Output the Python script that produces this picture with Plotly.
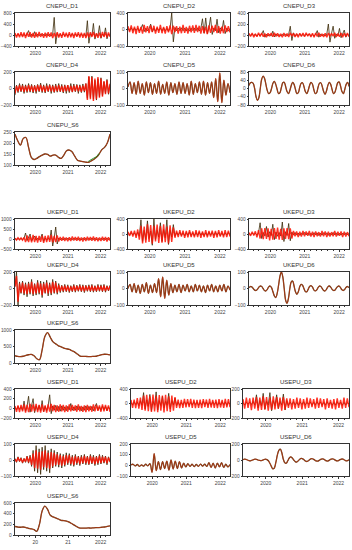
import plotly.graph_objects as go
import pandas as pd

W, H = 352, 550
START, END = "2019-05-18", "2022-04-16"

# ---------------- CN ----------------
CN_D1_red = [70,-90,60,-80,100,-70,90,-110,80,-60,100,-90,70,-100,90,-80,110,-70,60,-100,80,-90,100,-60,90,-110,70,-80,100,-90,60,-100,110,-70,80,-90,100,-80,70,-110,90,-60,100,-90,80,-100,70,-110,90,-80,100,-70,110,-90,60,-100,80,-90,110,-70,100,-80,90,-60]
CN_D1_dark = [20,-30,35,-25,30,-40,25,-35,40,160,-60,30,-45,120,-50,35,-30,40,-25,30,-35,45,-30,25,-40,35,640,-320,60,-45,30,-35,40,-30,25,-40,35,-30,45,-25,30,-40,35,-30,40,-25,30,-45,520,-300,50,-35,420,-150,40,-30,340,-120,35,-40,260,-140,30,-25]
CN_D2_red = [80,-60,100,-90,70,-110,90,-80,60,-100,110,-70,80,-90,100,-60,90,-100,70,-80,110,-90,60,-100,80,-70,100,-110,90,-60,80,-100,70,-90,110,-80,60,-100,90,-70,100,-80,110,-60,90,-100,80,-90,70,-110,100,-80,90,-60,110,-90,80,-100,70,-90,100,-60,80,-70]
CN_D2_dark = [20,-30,40,-25,35,-20,30,-40,25,120,-50,30,-35,25,130,-60,30,-40,35,-25,30,-35,40,-30,25,-45,35,400,-300,50,-30,35,-25,40,-30,30,-35,25,-40,30,-25,35,-30,40,-35,30,260,-90,280,-100,40,300,-120,35,-30,250,-80,40,-35,220,-100,30,-40,25]
CN_D3_red = [30,-25,35,-40,20,-30,40,-25,35,-30,25,-40,30,-20,35,-30,40,-25,30,-35,20,-40,35,-30,25,-35,40,-20,30,-35,25,-40,30,-25,35,-30,40,-20,25,-35,30,-40,35,-25,40,-30,20,-35,30,-40,35,-25,30,-20,40,-35,25,-30,35,-40,30,-25,35,-30]
CN_D3_dark = [10,-15,20,-10,15,-20,10,-15,20,80,-40,15,-20,10,-15,70,-35,20,-15,10,-20,15,-10,20,-15,10,160,-100,40,-20,15,-10,20,-15,10,-20,15,-10,20,-15,10,-20,15,80,-40,20,-15,10,-20,15,200,-130,30,160,-60,20,-15,120,-50,20,90,-40,15,-10]
CN_D4_dark = [-80,40,-50,60,-40,55,-60,45,-50,60,-45,50,-55,40,-60,50,-40,65,-50,45,-55,60,-40,50,-60,45,-50,55,-45,60,-40,50,-55,45,-60,40,-50,60,-45,55,-40,50,-60,45,-50,55,-45,60,-120,140,-110,150,-130,100,-140,120,-100,130,-90,80,-60,110,-70,60]
CN_D4_red = [-60,30,-35,40,-30,35,-40,30,-35,40,-30,35,-40,30,-35,40,-30,45,-35,30,-40,35,-30,40,-35,30,-40,35,-30,40,-35,30,-40,35,-30,40,-35,30,-40,35,-30,40,-35,30,-40,35,-30,60,-140,150,-130,140,-150,120,-130,140,-110,120,-100,90,-70,100,-60,50]
CN_D5 = [10,40,-30,35,-35,45,-30,30,-40,40,-25,35,-35,30,-30,45,-35,25,-30,40,-40,35,-25,30,-35,40,-30,35,-30,30,-40,45,-35,30,-25,40,-35,45,-40,35,-30,40,-55,60,-80,95,-85,50,-40,30,-25]
CN_D6 = [15,28,30,25,0,-40,-58,-45,0,45,60,50,20,-10,-25,-20,0,25,35,20,-5,-25,-20,5,28,30,10,-15,-25,-10,15,30,20,-5,-25,-20,5,25,28,10,-15,-25,-10,15,30,22,-5,-25,-20,5,25,28,10,-15,-28,-12,15,30,20,-5,-25,-18,5,28,32,12,-15,-25,-5,20,30,10]
CN_S6 = [240,210,190,220,225,180,135,125,130,138,145,150,148,140,145,145,135,130,145,165,168,160,140,122,118,115,113,112,118,125,135,150,170,180,200,240]
CN_S6_ALT = [116,124,131,138,152]
CN_S6_ALT_DATES = ["2021-08-15", "2021-09-15", "2021-10-15", "2021-11-15", "2021-12-15"]

# ---------------- UK ----------------
UK_D1_red = [40,-50,60,-40,50,-60,80,-150,180,-160,140,-170,200,-150,160,-180,150,-140,170,-190,160,-150,180,-140,200,-170,150,-160,180,-120,100,-90,110,-100,80,-110,90,-100,120,-80,100,-90,110,-100,80,-120,90,-100,110,-80,100,-90,120,-100,90,-110,80,-100,110,-90,100,-120,90,-80]
UK_D1_dark = [20,-30,25,-20,30,-25,40,300,-80,50,250,-100,40,150,-60,50,-40,60,250,-120,50,-60,40,-50,450,-350,60,600,-250,50,-40,30,-50,40,-30,50,-40,30,-35,40,-30,45,-40,30,-50,40,-30,35,-40,30,-35,45,-30,40,-50,30,-40,35,-30,40,-30,45,-35,30]
UK_D2_red = [60,-50,80,-70,90,-100,120,-150,220,-250,200,-230,260,-210,240,-260,220,-200,250,-240,210,-230,260,-220,200,-250,230,-210,180,-100,90,-80,100,-70,90,-100,80,-90,100,-80,70,-90,100,-80,90,-100,70,-80,100,-90,80,-70,90,-100,80,-90,100,-70,80,-90,100,-80,90,-70]
UK_D2_dark = [20,-30,40,-25,30,-40,50,-60,380,-200,100,-150,350,-120,80,-300,400,-150,100,-80,300,-200,120,-100,380,-280,100,-80,250,-60,40,-30,50,-40,30,-50,40,-30,60,-40,30,-50,40,-35,50,-30,40,-45,30,-40,50,-30,40,-35,45,-30,40,-50,30,-40,35,-30,45,-25]
UK_D3_red = [40,-50,60,-40,70,-90,100,-120,150,-140,160,-130,150,-170,140,-150,160,-130,170,-150,140,-160,150,-130,160,-140,150,-120,80,-60,70,-80,60,-70,80,-60,70,-50,80,-70,60,-80,70,-60,50,-70,80,-60,70,-80,60,-70,50,-60,80,-70,60,-50,70,-80,60,-70,50,-60]
UK_D3_dark = [15,-20,25,-15,20,-30,30,300,-120,40,-50,200,-80,60,-40,260,-150,50,-60,40,-50,320,-200,60,-40,280,-180,50,-30,40,-30,25,-35,30,-20,40,-25,30,-35,20,-30,35,-25,30,-40,25,-30,35,-20,30,-35,25,-30,40,-25,30,-35,20,-30,25,-20,30,-25,20]
UK_D4_dark = [30,200,-200,80,-60,90,-80,70,-100,80,-70,110,-90,60,-80,100,-70,90,-110,80,-60,100,-90,70,-80,110,-60,90,-70,60,-50,40,-45,50,-40,45,-50,35,-40,50,-45,40,-35,50,-40,45,-50,40,-35,45,-40,50,-45,35,-40,50,-35,45,-40,50,-45,35,-30,40]
UK_D4_red = [20,150,-160,60,-50,70,-60,50,-70,60,-50,80,-70,50,-60,70,-50,60,-80,60,-50,70,-60,50,-60,80,-50,70,-50,40,-35,30,-30,35,-30,30,-35,25,-30,35,-30,30,-25,35,-30,30,-35,30,-25,30,-30,35,-30,25,-30,35,-25,30,-30,35,-30,25,-20,30]
UK_D5 = [0,25,-20,30,-25,20,-30,25,-20,35,-30,20,-25,30,-25,60,-50,70,-60,50,-40,30,-25,20,-20,25,-25,20,-15,25,-20,15,-20,25,-15,20,-20,15,-25,20,-15,25,-20,15,-20,20,-15,25,-20,15,-10]
UK_D6 = [5,12,10,0,-10,-12,-5,8,15,12,0,-12,-15,-5,10,15,5,-20,-45,-55,-30,20,75,100,70,0,-70,-90,-60,0,40,45,15,-20,-35,-20,10,25,20,0,-18,-20,-5,12,18,10,-8,-15,-10,5,15,12,0,-12,-15,-5,10,15,8,-5,-12,-10,2,12,15,5,-8,-12,-5,8,12,5]
UK_S6 = [220,200,195,205,230,250,260,220,130,100,400,800,920,780,640,580,520,490,450,430,410,370,330,270,210,200,200,195,195,200,205,230,255,265,260,245]

# ---------------- US ----------------
US_D1_red = [50,-70,60,-80,70,-60,80,-90,70,-80,90,-70,80,-60,90,-80,70,-90,80,-70,60,-90,80,-70,90,-60,70,-80,60,-70,80,-60,70,-80,60,-70,80,-60,70,-50,60,-70,80,-60,50,-70,60,-80,70,-60,50,-70,80,-60,70,-50,60,-70,80,-60,70,-50,60,-70]
US_D1_dark = [20,-30,40,-20,30,-40,150,-60,40,250,-80,60,200,-90,50,-40,60,-50,160,-70,40,-50,60,280,-110,50,-40,60,-50,40,-60,50,-40,30,-50,40,-30,100,-40,30,-40,50,-30,40,-50,30,-40,50,-30,40,-30,40,-50,30,100,-40,30,-40,50,-30,40,-50,30,-20]
US_D2_red = [100,-120,110,-130,150,-140,160,-180,220,-200,240,-210,200,-230,250,-220,210,-240,230,-200,220,-250,240,-210,200,-230,220,-200,180,-120,110,-130,100,-120,130,-110,120,-100,130,-120,110,-130,100,-120,110,-130,120,-100,110,-120,130,-110,100,-120,110,-130,120,-110,100,-120,130,-110,120,-100]
US_D2_dark = [30,-40,50,-30,40,-60,80,-50,300,-150,100,-80,250,-200,60,-50,320,-180,80,-60,200,-120,60,-50,280,-150,80,-40,150,-60,40,-50,30,-40,50,-30,40,-50,30,-40,50,-30,40,-50,30,-40,60,-30,40,-50,30,-40,50,-30,40,-50,30,-40,50,-30,40,-50,30,-20]
US_D3_red = [60,-70,80,-60,70,-90,80,-70,90,-100,80,-90,100,-80,90,-100,80,-90,100,-80,90,-70,80,-100,90,-80,70,-60,70,-80,60,-70,80,-60,70,-80,60,-70,80,-60,70,-50,60,-70,80,-60,70,-50,60,-80,70,-60,50,-70,60,-80,70,-60,50,-70,80,-60,70,-50]
US_D3_dark = [10,-20,15,-10,20,-15,30,-20,120,-60,40,-30,140,-80,30,-20,150,-100,40,-30,120,-70,30,-20,130,-90,40,-30,20,-15,25,-20,15,-25,20,-15,25,-20,15,-10,20,-25,15,-20,25,-15,20,-25,15,-20,25,-15,20,-25,15,-20,25,-15,20,-25,15,-20,10,-5]
US_D4_dark = [10,-15,20,-10,15,-20,10,-15,25,-20,30,-40,60,-70,90,-80,70,-90,80,-60,90,-70,60,-80,70,-50,60,-40,50,-45,40,-50,35,-40,45,-30,40,-35,30,-40,35,-30,25,-35,30,-25,35,-30,25,-30,35,-25,30,-35,25,-30,35,-25,30,-20,25,-30,20,-15]
US_D4_red = [5,-10,15,-8,10,-15,8,-10,20,-15,20,-30,40,-50,60,-55,50,-60,55,-45,60,-50,45,-55,50,-40,45,-30,35,-30,30,-35,25,-30,30,-20,30,-25,20,-30,25,-20,20,-25,20,-20,25,-20,20,-25,25,-20,20,-25,20,-20,25,-20,20,-15,20,-20,15,-10]
US_D5 = [5,10,-5,8,-10,5,-8,10,-5,15,-65,110,-50,35,-40,35,-30,40,-45,50,-35,40,-30,35,-25,20,-15,15,-10,10,-12,8,-10,12,-8,10,-10,25,-20,20,-25,20,-15,25,-20,10,-15,8]
US_D6 = [5,10,8,0,-8,-10,-3,5,10,8,0,-5,-8,-3,5,10,5,-10,-40,-80,-110,-100,-30,60,120,135,90,10,-35,-40,-10,25,40,25,0,-20,-25,-10,10,20,15,0,-15,-18,-5,10,18,12,0,-12,-15,-5,8,15,10,-2,-12,-12,0,10,15,8,-5,-12,-8,5,12,10,0,-10,-8,2]
US_S6 = [160,150,145,150,140,125,115,100,70,200,450,540,480,370,340,320,300,275,270,260,240,210,180,150,130,128,130,132,130,135,138,140,145,150,160,170]

YEAR_TICKS = ["2020", "2021", "2022"]
US_S6_TICKS = ["20", "21", "2022"]

# column / row boxes in pixels (left, right) and (top, bottom)
COLS = {"CN": [(15, 110), (128, 230), (249, 349)],
        "UK": [(15, 110), (128, 230), (249, 349)],
        "US": [(15, 110), (131, 230), (243, 349)]}
ROWS = {"CN": [(13, 46), (72, 105), (132, 165)],
        "UK": [(219, 249), (272, 305), (330, 363)],
        "US": [(389, 418), (444, 476), (503, 535)]}

NOISY, SMOOTH = "noisy", "smooth"
panels = [
    ("CNEPU_D1", "CN", 0, 0, NOISY, (CN_D1_red, CN_D1_dark), [-400, 800], [-400, 0, 400, 800]),
    ("CNEPU_D2", "CN", 0, 1, NOISY, (CN_D2_red, CN_D2_dark), [-400, 400], [-400, 0, 400]),
    ("CNEPU_D3", "CN", 0, 2, NOISY, (CN_D3_red, CN_D3_dark), [-200, 400], [-200, 0, 200, 400]),
    ("CNEPU_D4", "CN", 1, 0, NOISY, (CN_D4_red, CN_D4_dark), [-200, 200], [-200, 0, 200]),
    ("CNEPU_D5", "CN", 1, 1, SMOOTH, (CN_D5,), [-100, 100], [-100, 0, 100]),
    ("CNEPU_D6", "CN", 1, 2, SMOOTH, (CN_D6,), [-80, 80], [-80, -40, 0, 40, 80]),
    ("CNEPU_S6", "CN", 2, 0, SMOOTH, (CN_S6,), [100, 250], [100, 150, 200, 250]),
    ("UKEPU_D1", "UK", 0, 0, NOISY, (UK_D1_red, UK_D1_dark), [-500, 1000], [-500, 0, 500, 1000]),
    ("UKEPU_D2", "UK", 0, 1, NOISY, (UK_D2_red, UK_D2_dark), [-400, 400], [-400, 0, 400]),
    ("UKEPU_D3", "UK", 0, 2, NOISY, (UK_D3_red, UK_D3_dark), [-400, 400], [-400, 0, 400]),
    ("UKEPU_D4", "UK", 1, 0, NOISY, (UK_D4_red, UK_D4_dark), [-200, 200], [-200, 0, 200]),
    ("UKEPU_D5", "UK", 1, 1, SMOOTH, (UK_D5,), [-100, 100], [-100, 0, 100]),
    ("UKEPU_D6", "UK", 1, 2, SMOOTH, (UK_D6,), [-100, 100], [-100, 0, 100]),
    ("UKEPU_S6", "UK", 2, 0, SMOOTH, (UK_S6,), [0, 1000], [0, 500, 1000]),
    ("USEPU_D1", "US", 0, 0, NOISY, (US_D1_red, US_D1_dark), [-200, 400], [-200, 0, 200, 400]),
    ("USEPU_D2", "US", 0, 1, NOISY, (US_D2_red, US_D2_dark), [-400, 400], [-400, 0, 400]),
    ("USEPU_D3", "US", 0, 2, NOISY, (US_D3_red, US_D3_dark), [-200, 200], [-200, 0, 200]),
    ("USEPU_D4", "US", 1, 0, NOISY, (US_D4_red, US_D4_dark), [-100, 100], [-100, 0, 100]),
    ("USEPU_D5", "US", 1, 1, SMOOTH, (US_D5,), [-100, 200], [-100, 0, 100, 200]),
    ("USEPU_D6", "US", 1, 2, SMOOTH, (US_D6,), [-200, 200], [-200, 0, 200]),
    ("USEPU_S6", "US", 2, 0, SMOOTH, (US_S6,), [0, 600], [0, 200, 400, 600]),
]

FONT = "Liberation Sans, Arial, sans-serif"
AX = "#333333"
fig = go.Figure()
layout = {}
annotations = []

def xs(n):
    return pd.date_range(START, END, periods=n)

for i, (title, grp, r, c, kind, series, yr, yt) in enumerate(panels, start=1):
    xa, ya = f"x{i}", f"y{i}"
    (x0, x1) = COLS[grp][c]
    (y0, y1) = ROWS[grp][r]
    if kind == NOISY:
        red, dark = series
        fig.add_trace(go.Scatter(x=xs(len(dark)), y=dark, mode="lines",
                                 line=dict(color="#3b2a08", width=0.8),
                                 xaxis=xa, yaxis=ya, showlegend=False, hoverinfo="skip"))
        fig.add_trace(go.Scatter(x=xs(len(red)), y=red, mode="lines",
                                 line=dict(color="#ff1000", width=1.4), opacity=0.85,
                                 xaxis=xa, yaxis=ya, showlegend=False, hoverinfo="skip"))
    else:
        vals = series[0]
        fig.add_trace(go.Scatter(x=xs(len(vals)), y=vals, mode="lines",
                                 line=dict(color="#5a3410", width=1.3, shape="spline"),
                                 xaxis=xa, yaxis=ya, showlegend=False, hoverinfo="skip"))
        fig.add_trace(go.Scatter(x=xs(len(vals)), y=vals, mode="lines",
                                 line=dict(color="#d8401c", width=0.6, shape="spline"),
                                 xaxis=xa, yaxis=ya, showlegend=False, hoverinfo="skip"))
        if title == "CNEPU_S6":
            fig.add_trace(go.Scatter(x=pd.to_datetime(CN_S6_ALT_DATES), y=CN_S6_ALT, mode="lines",
                                     line=dict(color="#1a8a1a", width=0.9, shape="spline"),
                                     xaxis=xa, yaxis=ya, showlegend=False, hoverinfo="skip"))
    ticktext = US_S6_TICKS if title == "USEPU_S6" else YEAR_TICKS
    key = "" if i == 1 else str(i)
    layout[f"xaxis{key}"] = dict(
        domain=[x0 / W, x1 / W], anchor=ya, type="date", range=[START, END], automargin=False,
        tickmode="array", tickvals=["2020-01-01", "2021-01-01", "2022-01-01"], ticktext=ticktext,
        ticks="outside", ticklen=2.5, tickwidth=0.7, tickcolor=AX,
        minor=dict(tickmode="linear", tick0="2019-01-01", dtick="M2", ticks="outside",
                   ticklen=1.5, tickwidth=0.6, tickcolor=AX),
        showline=True, linecolor=AX, linewidth=0.8, mirror=True,
        showgrid=False, zeroline=False, fixedrange=True,
        tickfont=dict(size=5, color="#444", family=FONT))
    layout[f"yaxis{key}"] = dict(
        domain=[1 - y1 / H, 1 - y0 / H], anchor=xa, range=yr, automargin=False,
        tickmode="array", tickvals=yt, ticks="outside", ticklen=1.5, tickwidth=0.7, tickcolor=AX,
        showline=True, linecolor=AX, linewidth=0.8, mirror=True,
        showgrid=False, zeroline=False, fixedrange=True,
        tickfont=dict(size=4.8, color="#444", family=FONT))
    annotations.append(dict(text=title, xref="paper", yref="paper",
                            x=(x0 + x1) / 2 / W, y=1 - (y0 - 2) / H,
                            xanchor="center", yanchor="bottom", showarrow=False,
                            font=dict(size=6, color="#333", family=FONT)))

fig.update_layout(width=W, height=H, margin=dict(l=0, r=0, t=0, b=0, autoexpand=False),
                  paper_bgcolor="white", plot_bgcolor="white",
                  annotations=annotations, **layout)
fig.write_html("out.html", config={"displayModeBar": False},
               post_script="document.body.style.margin='0';document.body.style.overflow='hidden';")
